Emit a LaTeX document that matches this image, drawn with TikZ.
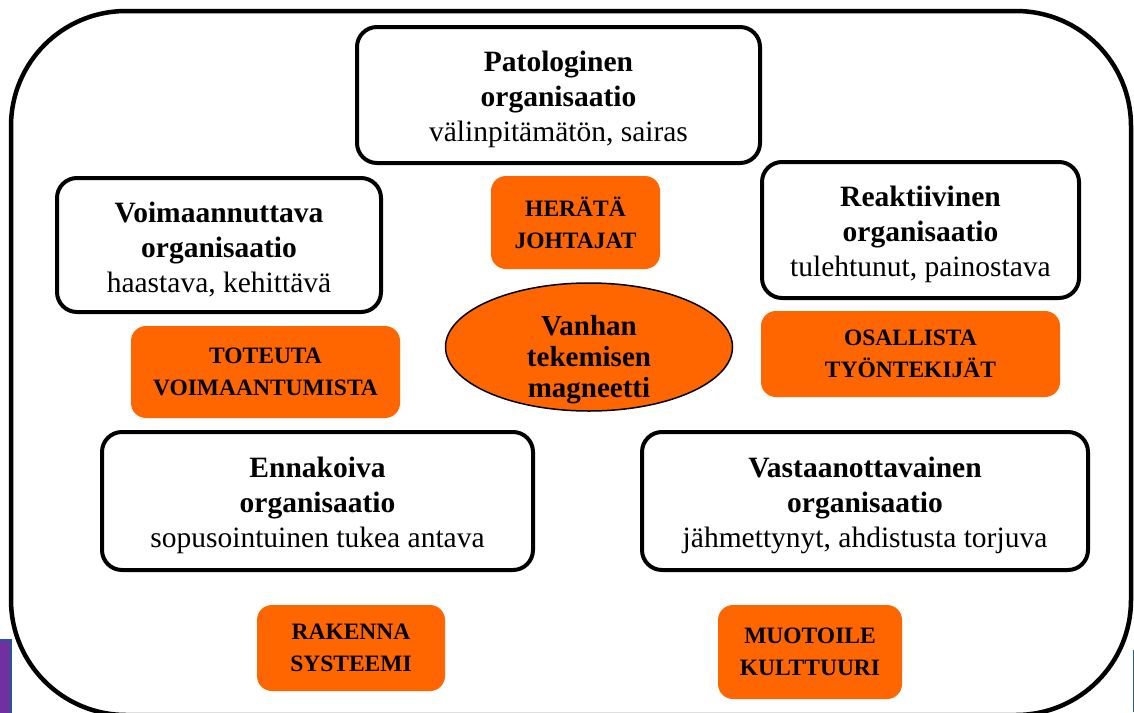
\documentclass[tikz,border=0pt]{standalone}
\usepackage{fontspec}
\setmainfont{Liberation Serif}
\usepackage{xcolor}
\usetikzlibrary{shapes.geometric}
\definecolor{actorange}{HTML}{FF6600}
\definecolor{barpurple}{HTML}{7030A0}
\definecolor{barblue}{HTML}{1F5C99}
\newcommand{\orgstrut}{\rule{0pt}{29pt}}

\begin{document}
\begin{tikzpicture}[x=1pt,y=-1pt,
    orgbox/.style={draw,line width=4pt,rounded corners=20pt,fill=white,align=center,
      inner sep=0pt,font=\fontsize{29.5}{35}\selectfont},
    actbox/.style={fill=actorange,rounded corners=15pt,align=center,inner sep=0pt,
      font=\fontsize{23.5}{32}\selectfont\bfseries},
    magnet/.style={ellipse,draw,line width=1.5pt,fill=actorange,inner sep=0pt}]
      \useasboundingbox (0,0) rectangle (1134,712);
      \clip (0,0) rectangle (1134,712);
      % frame
      \draw[line width=4.5pt,rounded corners=115pt] (11,11) rectangle (1131,715);
      \filldraw[fill=barpurple,draw=barblue,line width=2pt] (-2,640) rectangle (11,716);
      \draw[barblue,line width=1pt] (1133.5,650) -- (1133.5,712);
      % organisations
      \node[orgbox,minimum width=403pt,minimum height=136pt] (pato) at (558.5,95)
        {\orgstrut\textbf{Patologinen}\\\textbf{organisaatio}\\välinpitämätön, sairas};
      \node[orgbox,minimum width=324pt,minimum height=134pt] (voima) at (219,245)
        {\orgstrut\textbf{Voimaannuttava}\\\textbf{organisaatio}\\haastava, kehittävä};
      \node[orgbox,minimum width=317pt,minimum height=136pt] (reakt) at (920.5,230)
        {\orgstrut\textbf{Reaktiivinen}\\\textbf{organisaatio}\\tulehtunut, painostava};
      \node[orgbox,minimum width=431pt,minimum height=138pt] (ennak) at (317.5,501)
        {\orgstrut\textbf{Ennakoiva}\\\textbf{organisaatio}\\sopusointuinen tukea antava};
      \node[orgbox,minimum width=446pt,minimum height=138pt] (vasta) at (865,501)
        {\orgstrut\textbf{Vastaanottavainen}\\\textbf{organisaatio}\\jähmettynyt, ahdistusta torjuva};
      % actions
      \node[actbox,minimum width=169pt,minimum height=93pt] (herata) at (575.5,222.5)
        {HERÄTÄ\\JOHTAJAT};
      \node[actbox,minimum width=269pt,minimum height=92pt] (toteuta) at (265.5,372)
        {TOTEUTA\\VOIMAANTUMISTA};
      \node[actbox,minimum width=299pt,minimum height=86pt] (osallista) at (910.5,354)
        {OSALLISTA\\TYÖNTEKIJÄT};
      \node[actbox,minimum width=188pt,minimum height=86pt] (rakenna) at (351,648)
        {RAKENNA\\SYSTEEMI};
      \node[actbox,minimum width=184pt,minimum height=94pt] (muotoile) at (810,652)
        {MUOTOILE\\KULTTUURI};
      % centre
      \node[magnet,minimum width=287pt,minimum height=128pt] (magneetti) at (589,347) {};
      \node[align=center,font=\fontsize{29}{31}\selectfont\bfseries] (magnettext) at (589,360)
        {Vanhan\\tekemisen\\magneetti};
\end{tikzpicture}
\end{document}
